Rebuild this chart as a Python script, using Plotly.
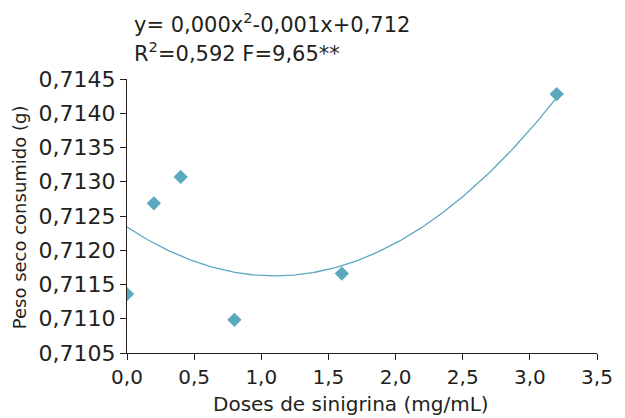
import numpy as np
import plotly.graph_objects as go

doses = [0.0, 0.2, 0.4, 0.8, 1.6, 3.2]
peso = [0.71136, 0.712685, 0.71307, 0.710985, 0.71166, 0.71428]

# trend-line coefficients (y = a x^2 + b x + c)
coef_a = 0.00059
coef_b = -0.001298
coef_c = 0.71234

x_ticks = [0, 0.5, 1.0, 1.5, 2.0, 2.5, 3.0, 3.5]
y_ticks = [0.7105, 0.7110, 0.7115, 0.7120, 0.7125, 0.7130, 0.7135, 0.7140, 0.7145]

color = "#5ba8bf"
txt = "#231f20"
font = "DejaVu Sans"

xc = np.linspace(0, max(doses), 200)
yc = coef_a * xc**2 + coef_b * xc + coef_c

fig = go.Figure()
fig.add_trace(go.Scatter(x=xc, y=yc, mode="lines",
                         line=dict(color=color, width=1.3), hoverinfo="skip"))
fig.add_trace(go.Scatter(x=doses, y=peso, mode="markers",
                         marker=dict(symbol="diamond", size=11, color=color)))

fig.update_layout(
    width=625, height=418,
    margin=dict(l=127, r=22, t=79, b=65),
    paper_bgcolor="white", plot_bgcolor="white",
    showlegend=False,
    separators=",.",
    font=dict(family=font, size=18, color=txt),
    xaxis=dict(range=[0, 3.5], tickvals=x_ticks, tickformat=".1f",
               showgrid=False, zeroline=False, showline=True, linecolor=txt,
               linewidth=1.3, ticks="outside", ticklen=6, tickcolor=txt,
               tickfont=dict(family=font, size=20, color=txt)),
    yaxis=dict(range=[0.7105, 0.7145], tickvals=y_ticks, tickformat=".4f",
               showgrid=False, zeroline=False, showline=True, linecolor=txt,
               linewidth=1.3, ticks="outside", ticklen=6, tickcolor=txt,
               tickfont=dict(family=font, size=22, color=txt)),
    annotations=[
        dict(text="y= 0,000x<sup>2</sup>-0,001x+0,712", xref="paper", yref="paper",
             x=0.01, y=1.205, xanchor="left", yanchor="middle", showarrow=False,
             font=dict(family=font, size=21, color=txt)),
        dict(text="R<sup>2</sup>=0,592 F=9,65**", xref="paper", yref="paper",
             x=0.01, y=1.098, xanchor="left", yanchor="middle", showarrow=False,
             font=dict(family=font, size=21, color=txt)),
        dict(text="Doses de sinigrina (mg/mL)", xref="paper", yref="paper",
             x=0.477, y=-0.187, xanchor="center", yanchor="middle", showarrow=False,
             font=dict(family=font, size=20, color=txt)),
        dict(text="Peso seco consumido (g)", xref="paper", yref="paper",
             x=-0.23, y=0.495, xanchor="center", yanchor="middle", showarrow=False,
             textangle=-90, font=dict(family=font, size=18, color=txt)),
    ],
)

fig.write_html("out.html")
